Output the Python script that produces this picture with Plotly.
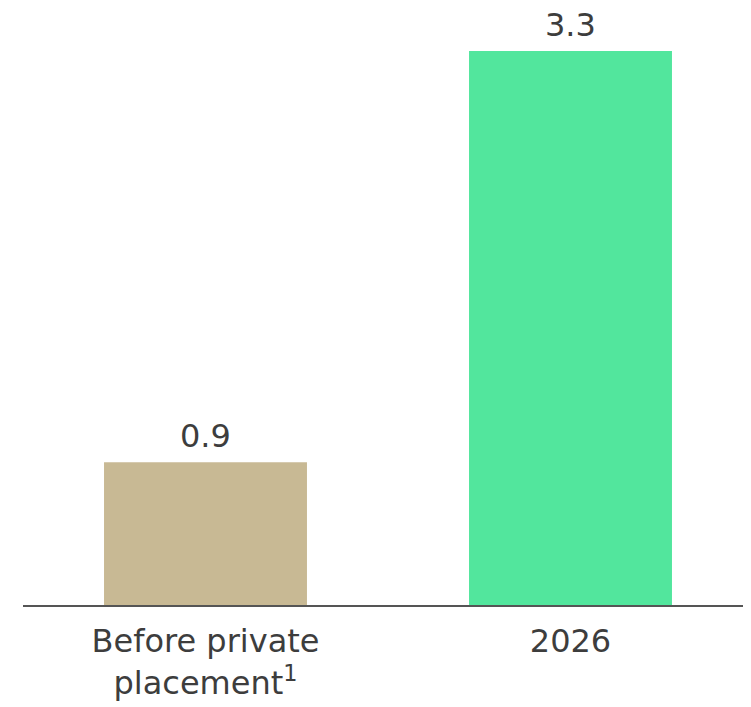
import plotly.graph_objects as go

categories = ["Before private<br>placement<sup>1</sup>", "2026"]
values = [0.85, 3.3]
value_labels = ["0.9", "3.3"]
colors = ["#C8B994", "#52E69D"]

FONT = "DejaVu Sans"
TXT = "#3d3d3d"

fig = go.Figure(go.Bar(
    x=categories, y=values,
    marker=dict(color=colors, line=dict(width=0)),
))
for i, (v, t) in enumerate(zip(values, value_labels)):
    fig.add_annotation(x=i, y=v, text=t, showarrow=False, yanchor="bottom",
                       yshift=5, font=dict(family=FONT, size=32, color=TXT))
fig.update_layout(
    width=745, height=699,
    margin=dict(l=15, r=0, t=0, b=102),
    paper_bgcolor="white", plot_bgcolor="white",
    bargap=0.444, showlegend=False,
    font=dict(family=FONT, size=32, color=TXT),
)
fig.update_xaxes(type="category", range=[-0.5, 1.5], showline=True,
                 linecolor="#555555", linewidth=2, ticklabelstandoff=7,
                 ticks="", tickfont=dict(family=FONT, size=32, color=TXT))
fig.update_yaxes(range=[0, 3.556], visible=False, showgrid=False)
fig.write_html("out.html")
